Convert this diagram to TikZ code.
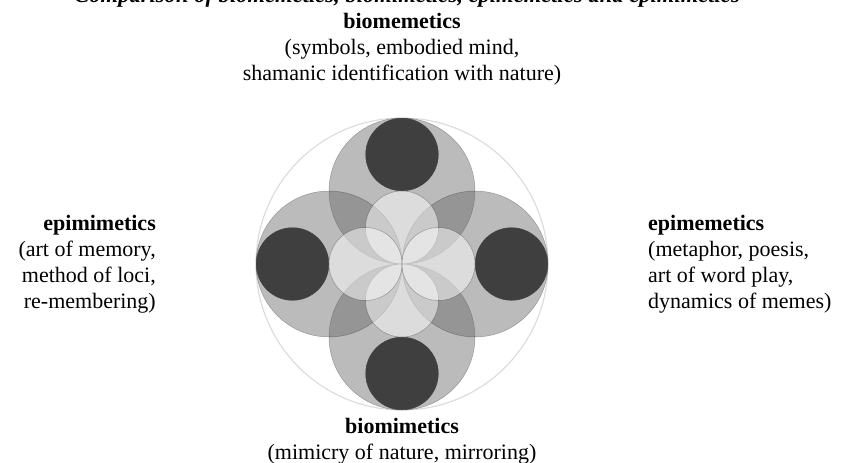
\documentclass[tikz,border=0pt]{standalone}
\usepackage{fontspec}
\setmainfont{Liberation Serif}
\usetikzlibrary{calc}
\definecolor{darkdisc}{HTML}{3F3F3F}
\definecolor{bigfill}{HTML}{646464}
\definecolor{rimgray}{HTML}{DDDDDD}
\tikzset{
  lbl/.style={inner sep=0pt, font=\fontsize{22}{25.8}\selectfont},
  bigc/.style={fill=bigfill, fill opacity=0.44, draw=black, draw opacity=0.28, line width=0.5pt},
  smallc/.style={fill=white, fill opacity=0.5, draw=black, draw opacity=0.3, line width=0.5pt},
  darkc/.style={fill=darkdisc, draw=darkdisc, line width=0.4pt},
  rim/.style={draw=rimgray, line width=1.2pt}
}
\begin{document}
\begin{tikzpicture}[x=1pt,y=-1pt]
\useasboundingbox (0,0) rectangle (841,463);
\clip (0,0) rectangle (841,463);
\coordinate (c) at (402,264);
% title (cut off at top)
\node[lbl, anchor=base, font=\fontsize{22.6}{25.8}\selectfont\bfseries\itshape] (title) at (407,2.5) {Comparison of biomemetics, biomimetics, epimemetics and epimimetics};
% outer rim
\draw[rim] (c) circle[radius=146pt];
% large circles
\foreach \dx/\dy in {0/-73, 0/73, -73/0, 73/0}
  \path[bigc] ($(c)+(\dx,\dy)$) circle[radius=73pt];
% small light circles
\foreach \dx/\dy in {0/-36.5, 0/36.5, -36.5/0, 36.5/0}
  \path[smallc] ($(c)+(\dx,\dy)$) circle[radius=36.5pt];
% dark discs
\foreach \dx/\dy in {0/-109.5, 0/109.5, -109.5/0, 109.5/0}
  \path[darkc] ($(c)+(\dx,\dy)$) circle[radius=36.3pt];
% labels (base = baseline of the last line)
\node[lbl, anchor=base, align=center] (topl) at (402,80)
  {\textbf{biomemetics}\\(symbols, embodied mind,\\shamanic identification with nature)};
\node[lbl, anchor=base east, align=right] (leftl) at (156,308)
  {\textbf{epimimetics}\\(art of memory,\\method of loci,\\re-membering)};
\node[lbl, anchor=base west, align=left] (rightl) at (648,308)
  {\textbf{epimemetics}\\(metaphor, poesis,\\art of word play,\\dynamics of memes)};
\node[lbl, anchor=base, align=center] (botl) at (402,459)
  {\textbf{biomimetics}\\(mimicry of nature, mirroring)};
\end{tikzpicture}
\end{document}
